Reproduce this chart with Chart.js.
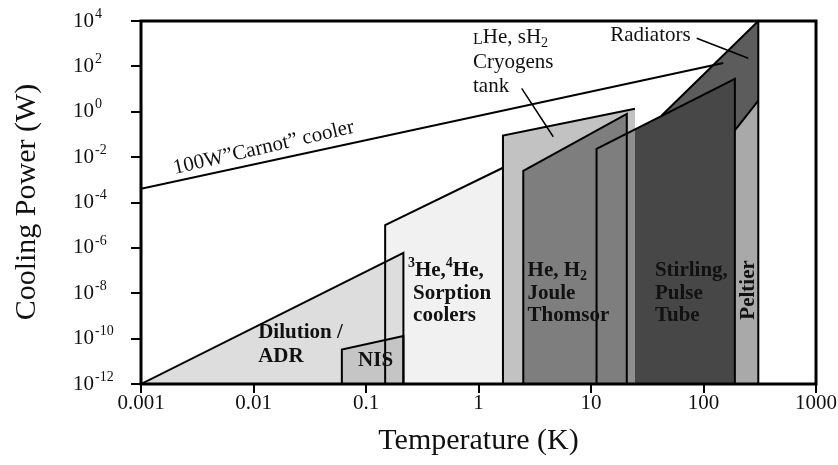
<!DOCTYPE html>
<html>
<head>
<meta charset="utf-8">
<script src="https://cdn.jsdelivr.net/npm/chart.js@4.4.1/dist/chart.umd.min.js"></script>
<style>
  html, body { margin: 0; padding: 0; background: #fff; }
  canvas { display: block; }
</style>
</head>
<body>
<canvas id="chart" width="838" height="465"></canvas>
<script>
// Axis ticks
const tempTicks = [0.001, 0.01, 0.1, 1, 10, 100, 1000];
const tempTickLabels = ['0.001', '0.01', '0.1', '1', '10', '100', '1000'];
const powerTicks = [1e4, 1e2, 1e0, 1e-2, 1e-4, 1e-6, 1e-8, 1e-10, 1e-12];
const powerExponents = ['4', '2', '0', '-2', '-4', '-6', '-8', '-10', '-12'];

// Ideal 100 W Carnot cooler
const carnotT = [0.001, 150];
const carnotP = [4e-4, 140];

// Operating envelopes: temperature (K) and cooling power (W) of each vertex
const dilutionT = [0.001, 0.215, 0.215];
const dilutionP = [1e-12, 6e-7, 1e-12];
const nisT = [0.061, 0.061, 0.215, 0.215];
const nisP = [1e-12, 3.3e-11, 1.3e-10, 1e-12];
const sorptionT = [0.148, 0.148, 1.65, 1.65];
const sorptionP = [1e-12, 1e-5, 3.4e-3, 1e-12];
const cryogenT = [1.65, 1.65, 24.6, 24.6];
const cryogenP = [1e-12, 0.089, 1.35, 1e-12];
const jouleThomsonT = [2.5, 2.5, 20.8, 20.8];
const jouleThomsonP = [1e-12, 2.5e-3, 0.81, 1e-12];
const stirlingT = [11.2, 11.2, 190, 190];
const stirlingP = [1e-12, 0.023, 28, 1e-12];
const radiatorT = [42.5, 307, 307];
const radiatorP = [0.68, 1e4, 1e-12];
const peltierT = [190, 190, 307, 307];
const peltierP = [1e-12, 0.15, 3.1, 1e-12];

// Leader lines from the labels to their regions
const radiatorLeaderT = [87, 250];
const radiatorLeaderP = [1725, 227];
const cryogenLeaderT = [2.42, 4.62];
const cryogenLeaderP = [10.8, 0.079];

const SERIF = '"Liberation Serif", "DejaVu Serif", serif';

const pts = (T, P) => T.map((t, i) => ({ x: t, y: P[i] }));

function area(T, P, color, order) {
  return {
    data: pts(T, P), fill: 'start', backgroundColor: color,
    borderWidth: 0, borderColor: 'rgba(0,0,0,0)', pointRadius: 0, order
  };
}
function edge(T, P, order, width) {
  return {
    data: pts(T, P), fill: false, borderColor: '#000',
    borderWidth: width || 2, pointRadius: 0, order
  };
}

const datasets = [
  // filled regions, back to front
  area(sorptionT, sorptionP, '#f1f1f1', 30),
  area(dilutionT, dilutionP, '#dddddd', 29),
  area(nisT, nisP, '#c5c5c5', 28),
  area(radiatorT, radiatorP, '#5c5c5c', 27),
  area(stirlingT, stirlingP, '#474747', 26),
  area(cryogenT, cryogenP, 'rgba(171,171,171,0.72)', 25),
  area(jouleThomsonT, jouleThomsonP, '#7e7e7e', 24),
  area(peltierT, peltierP, '#a9a9a9', 23),
  // outlines
  edge(sorptionT.slice(0, 3), sorptionP.slice(0, 3), 10),
  edge(dilutionT, dilutionP, 9),
  edge(nisT, nisP, 8),
  edge(cryogenT.slice(0, 3), cryogenP.slice(0, 3), 7),
  edge(jouleThomsonT, jouleThomsonP, 6),
  edge(stirlingT, stirlingP, 5),
  edge(radiatorT, radiatorP, 4),
  edge(peltierT.slice(1, 3), peltierP.slice(1, 3), 3),
  edge(carnotT, carnotP, 2),
  edge(radiatorLeaderT, radiatorLeaderP, 1, 1.5),
  edge(cryogenLeaderT, cryogenLeaderP, 1, 1.5)
];

// Text blocks anchored in data coordinates (left edge, vertical middle)
const regionLabels = [
  { T: 0.011, P: 1.8e-10, bold: true, runs: [{ t: 'Dilution /' }] },
  { T: 0.011, P: 1.6e-11, bold: true, runs: [{ t: 'ADR' }] },
  { T: 0.085, P: 1.1e-11, bold: true, runs: [{ t: 'NIS' }] },
  { T: 0.236, P: 1e-7, bold: true, runs: [{ t: '3', sup: true }, { t: 'He,' }, { t: '4', sup: true }, { t: 'He,' }] },
  { T: 0.262, P: 1e-8, bold: true, runs: [{ t: 'Sorption' }] },
  { T: 0.262, P: 1e-9, bold: true, runs: [{ t: 'coolers' }] },
  { T: 2.73, P: 1e-7, bold: true, runs: [{ t: 'He, H' }, { t: '2', sub: true }] },
  { T: 2.73, P: 1e-8, bold: true, runs: [{ t: 'Joule' }] },
  { T: 2.73, P: 1e-9, bold: true, runs: [{ t: 'Thomsor' }] },
  { T: 37, P: 1e-7, bold: true, runs: [{ t: 'Stirling,' }] },
  { T: 37, P: 1e-8, bold: true, runs: [{ t: 'Pulse' }] },
  { T: 37, P: 1e-9, bold: true, runs: [{ t: 'Tube' }] },
  { T: 0.893, P: 1870, bold: false, runs: [{ t: 'L', small: true }, { t: 'He, sH' }, { t: '2', sub: true }] },
  { T: 0.893, P: 155, bold: false, runs: [{ t: 'Cryogens' }] },
  { T: 0.893, P: 13.6, bold: false, runs: [{ t: 'tank' }] },
  { T: 14.8, P: 2400, bold: false, runs: [{ t: 'Radiators' }] }
];

function drawRuns(ctx, x, y, runs, size, weight) {
  let cx = x;
  for (const r of runs) {
    let s = size, dy = 0;
    if (r.sub) { s = Math.round(size * 0.68); dy = size * 0.3; }
    else if (r.sup) { s = Math.round(size * 0.68); dy = -size * 0.34; }
    else if (r.small) { s = Math.round(size * 0.78); dy = size * 0.1; }
    ctx.font = `${weight} ${s}px ${SERIF}`;
    ctx.fillText(r.t, cx, y + dy);
    cx += ctx.measureText(r.t).width;
  }
}

const decor = {
  id: 'decor',
  afterDraw(chart) {
    const { ctx, chartArea: a, scales: { x, y } } = chart;
    ctx.save();
    ctx.fillStyle = '#111';
    ctx.textBaseline = 'middle';

    // region labels
    ctx.textAlign = 'left';
    for (const l of regionLabels) {
      drawRuns(ctx, x.getPixelForValue(l.T), y.getPixelForValue(l.P), l.runs, 21, l.bold ? 'bold' : 'normal');
    }

    // Peltier label, vertical
    ctx.save();
    ctx.translate(x.getPixelForValue(254), y.getPixelForValue(1.4e-8));
    ctx.rotate(-Math.PI / 2);
    ctx.textAlign = 'center';
    ctx.font = `bold 21px ${SERIF}`;
    ctx.fillText('Peltier', 0, 0);
    ctx.restore();

    // Carnot label along its line
    ctx.save();
    ctx.translate(x.getPixelForValue(0.002), y.getPixelForValue(1.8e-3));
    ctx.rotate(-13 * Math.PI / 180);
    ctx.textAlign = 'left';
    ctx.textBaseline = 'alphabetic';
    ctx.font = `normal 21px ${SERIF}`;
    ctx.fillText('100W\u201DCarnot\u201D cooler', 0, 0);
    ctx.restore();

    // plot frame
    ctx.strokeStyle = '#000';
    ctx.lineWidth = 3;
    ctx.strokeRect(a.left, a.top, a.right - a.left, a.bottom - a.top);

    // y tick labels: 10 with exponent
    ctx.textAlign = 'left';
    powerTicks.forEach((v, i) => {
      const py = y.getPixelForValue(v);
      ctx.font = `normal 21px ${SERIF}`;
      ctx.fillText('10', 73, py);
      const w = ctx.measureText('10').width;
      ctx.font = `normal 14px ${SERIF}`;
      ctx.fillText(powerExponents[i], 73 + w + 1, py - 7);
    });

    // x tick labels
    ctx.textAlign = 'center';
    ctx.font = `normal 21px ${SERIF}`;
    tempTicks.forEach((v, i) => {
      ctx.fillText(tempTickLabels[i], x.getPixelForValue(v), 403);
    });

    // axis titles
    ctx.font = `normal 30px ${SERIF}`;
    ctx.fillText('Temperature (K)', (a.left + a.right) / 2, 441);
    ctx.save();
    ctx.translate(27, 202);
    ctx.rotate(-Math.PI / 2);
    ctx.fillText('Cooling Power (W)', 0, 0);
    ctx.restore();

    ctx.restore();
  }
};

new Chart(document.getElementById('chart'), {
  type: 'line',
  data: { datasets },
  options: {
    responsive: false,
    animation: false,
    events: [],
    layout: { padding: { top: 21, right: 22, left: 0, bottom: 0 } },
    plugins: { legend: { display: false }, tooltip: { enabled: false } },
    elements: { line: { tension: 0, borderJoinStyle: 'miter' } },
    scales: {
      x: {
        type: 'logarithmic', min: 0.001, max: 1000,
        afterBuildTicks: s => { s.ticks = tempTicks.map(v => ({ value: v })); },
        afterFit: s => { s.height = 81; },
        ticks: { display: false },
        border: { display: false },
        grid: { display: true, drawOnChartArea: false, drawTicks: true, tickLength: 9, lineWidth: 2, color: '#000' }
      },
      y: {
        type: 'logarithmic', min: 1e-12, max: 1e4,
        afterBuildTicks: s => { s.ticks = powerTicks.map(v => ({ value: v })); },
        afterFit: s => { s.width = 141; },
        ticks: { display: false },
        border: { display: false },
        grid: { display: true, drawOnChartArea: false, drawTicks: true, tickLength: 10, lineWidth: 2, color: '#000' }
      }
    }
  },
  plugins: [decor]
});
</script>
</body>
</html>
